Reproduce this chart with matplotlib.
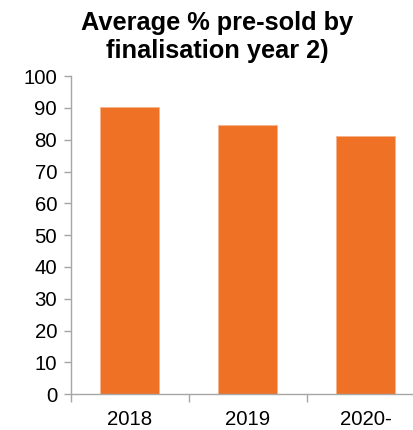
import matplotlib
matplotlib.use('Agg')
import matplotlib.pyplot as plt
import numpy as np

years = ['2018', '2019', '2020-']
presold = [90.4, 84.7, 81.3]
yticks = list(range(0, 101, 10))

plt.rcParams['font.family'] = ['Liberation Sans', 'DejaVu Sans']

fig = plt.figure(figsize=(4.13, 4.30), dpi=100)
ax = fig.add_axes([0.1719, 0.0830, 0.8557, 0.7402])

x = np.arange(len(years))
ax.bar(x, presold, width=0.5, color='#EE7125', edgecolor='#F5B48A', linewidth=0.6)

ax.set_xlim(-0.5, len(years) - 0.5)
ax.set_ylim(0, 100)
ax.set_yticks(yticks)
ax.set_yticklabels([str(t) for t in yticks], fontsize=14.7)

ax.set_xticks(x)
ax.set_xticklabels(years, fontsize=14.7)
ax.tick_params(axis='x', which='major', length=0, pad=11)
ax.set_xticks(np.arange(-0.5, len(years), 1.0), minor=True)
ax.tick_params(axis='x', which='minor', length=6, color='#A6A6A6', width=1)
ax.tick_params(axis='y', length=5, color='#A6A6A6', width=1, pad=5)

for side in ['top', 'right']:
    ax.spines[side].set_visible(False)
for side in ['left', 'bottom']:
    ax.spines[side].set_color('#A6A6A6')
    ax.spines[side].set_linewidth(1)

fig.text(0.526, 0.975, 'Average % pre-sold by\nfinalisation year 2)', ha='center', va='top',
         fontsize=18.3, fontweight='bold', linespacing=1.22)

fig.savefig('out.png', dpi=100)
